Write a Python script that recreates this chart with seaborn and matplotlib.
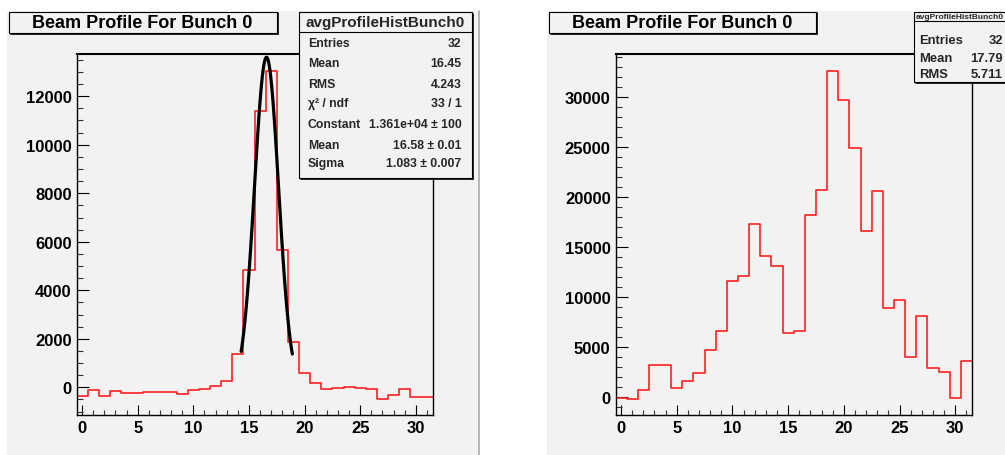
import numpy as np
import pandas as pd
import matplotlib
matplotlib.use("Agg")
import matplotlib.pyplot as plt
import seaborn as sns
from matplotlib.patches import Rectangle
from matplotlib.lines import Line2D
from matplotlib.ticker import MultipleLocator

# ---------------- data ----------------
bin_centers = list(range(32))
left_counts = [-350, -100, -345, -140, -235, -245, -205, -180, -205, -275,
               -100, -60, 40, 270, 1370, 4850, 11400, 13050, 5650, 1860,
               580, 180, -80, -40, 0, -40, -80, -480, -320, -60, -400, -400]
right_counts = [-100, -150, 700, 3200, 3200, 960, 1630, 2430, 4700, 6630,
                11600, 12170, 17300, 14100, 13130, 6430, 6630, 18230, 20700, 32600,
                29700, 24930, 16600, 20600, 8960, 9700, 4030, 8160, 2900, 2530,
                -100, 3600]
fit_constant = 1.361e4
fit_mean = 16.58
fit_sigma = 1.083
fit_range = (14.3, 18.9)

title_text = "Beam Profile For Bunch 0"
hist_name = "avgProfileHistBunch0"
left_stats = [("Entries", "32"), ("Mean", "16.45"), ("RMS", "4.243"),
              ("χ² / ndf", "33 / 1"), ("Constant", "1.361e+04 ± 100"),
              ("Mean", "16.58 ± 0.01"), ("Sigma", "1.083 ± 0.007")]
right_stats = [("Entries", "32"), ("Mean", "17.79"), ("RMS", "5.711")]

x_ticks = [0, 5, 10, 15, 20, 25, 30]

# ---------------- style ----------------
sns.set_theme(style="ticks")
plt.rcParams['font.family'] = ['Liberation Sans', 'DejaVu Sans']
plt.rcParams['font.weight'] = 'bold'

W, H = 1005, 456
fig = plt.figure(figsize=(W / 100, H / 100), dpi=100, facecolor='white')


def fx(x):
    return x / W


def fy(y):
    return 1 - y / H


def add_rect(x0, y0, x1, y1, **kw):
    r = Rectangle((fx(x0), fy(y1)), (x1 - x0) / W, (y1 - y0) / H,
                  transform=fig.transFigure, **kw)
    fig.add_artist(r)
    return r


def add_line(xs, ys, **kw):
    ln = Line2D([fx(x) for x in xs], [fy(y) for y in ys],
                transform=fig.transFigure, **kw)
    fig.add_artist(ln)
    return ln


PAD = '#f2f2f2'
add_rect(7, 12, 478, 456, facecolor=PAD, edgecolor='none', zorder=-5)
add_rect(547, 12, 1005, 456, facecolor=PAD, edgecolor='none', zorder=-5)
add_line([478.7, 478.7], [12, 456], color='#a8a8a8', lw=1.2, zorder=-4)


def style_axes(ax, ylim, ymajor, yminor):
    ax.set_facecolor('none')
    ax.set_xlim(-0.5, 31.5)
    ax.set_ylim(*ylim)
    ax.set_xlabel("")
    ax.set_ylabel("")
    ax.set_xticks(x_ticks)
    ax.xaxis.set_minor_locator(MultipleLocator(1))
    ax.yaxis.set_major_locator(MultipleLocator(ymajor))
    ax.yaxis.set_minor_locator(MultipleLocator(yminor))
    ax.tick_params(axis='both', which='major', direction='in', colors='black',
                   labelsize=12, width=0.8, pad=3.5)
    ax.tick_params(axis='y', which='major', length=8.4)
    ax.tick_params(axis='x', which='major', length=7.2)
    ax.tick_params(axis='y', which='minor', direction='in', length=4.3, width=0.8, color='#333333')
    ax.tick_params(axis='x', which='minor', direction='in', length=3.6, width=0.8, color='#333333')
    ax.tick_params(top=False, right=False, which='both')
    for s in ['left', 'bottom', 'right']:
        ax.spines[s].set_visible(True)
        ax.spines[s].set_color('black')
        ax.spines[s].set_linewidth(1.0)
    ax.spines['top'].set_visible(True)
    ax.spines['top'].set_color('black')
    ax.spines['top'].set_linewidth(1.5)
    for lab in ax.get_xticklabels() + ax.get_yticklabels():
        lab.set_fontweight('bold')


# ---------------- left pad ----------------
ax1 = fig.add_axes([fx(76.5), fy(416), 356 / W, 361 / H])
df_left = pd.DataFrame({"x": bin_centers, "w": left_counts})
sns.histplot(data=df_left, x="x", weights="w", binwidth=1, binrange=(-0.5, 31.5),
             element="step", fill=False, color="#ff2020", linewidth=1.2, ax=ax1)
fx_vals = np.linspace(fit_range[0], fit_range[1], 120)
fy_vals = fit_constant * np.exp(-0.5 * ((fx_vals - fit_mean) / fit_sigma) ** 2)
sns.lineplot(x=fx_vals, y=fy_vals, color='black', linewidth=2.3, sort=False,
             estimator=None, ax=ax1)
style_axes(ax1, (-1140, 13740), 2000, 500)

# ---------------- right pad ----------------
ax2 = fig.add_axes([fx(615.5), fy(416), 356.5 / W, 361 / H])
df_right = pd.DataFrame({"x": bin_centers, "w": right_counts})
sns.histplot(data=df_right, x="x", weights="w", binwidth=1, binrange=(-0.5, 31.5),
             element="step", fill=False, color="#ff2020", linewidth=1.2, ax=ax2)
style_axes(ax2, (-1770, 34330), 5000, 1000)


# ---------------- title boxes ----------------
def title_box(x0, x1):
    add_rect(x0, 12.5, x1, 34, facecolor=PAD, edgecolor='black', lw=0.8, zorder=10)
    add_line([x1 + 1, x1 + 1], [14, 35], color='black', lw=1.2, zorder=10)
    add_line([x0 + 2, x1 + 1], [35, 35], color='black', lw=1.2, zorder=10)
    fig.text(fx((x0 + x1) / 2), fy(23.5), title_text, ha='center', va='center',
             fontsize=13, fontweight='bold', color='black', zorder=11)


title_box(8.5, 276.5)
title_box(549, 815.5)

# ---------------- stats boxes ----------------
# left
add_rect(299, 12.5, 471.5, 178.5, facecolor=PAD, edgecolor='black', lw=0.8, zorder=10)
add_line([472.7, 472.7], [14.5, 179.7], color='black', lw=1.2, zorder=10)
add_line([301, 472.7], [179.7, 179.7], color='black', lw=1.2, zorder=10)
add_line([299, 471.5], [32.5, 32.5], color='black', lw=0.8, zorder=11)
fig.text(fx(385.3), fy(22.5), hist_name, ha='center', va='center',
         fontsize=11, fontweight='bold', zorder=11)
row_y_left = [43.7, 64.0, 85.0, 104.5, 125.5, 145.7, 164.3]
for (lab, val), yy in zip(left_stats, row_y_left):
    fig.text(fx(308), fy(yy), lab, ha='left', va='center', fontsize=8.8,
             fontweight='bold', zorder=11)
    fig.text(fx(461.5), fy(yy), val, ha='right', va='center', fontsize=8.8,
             fontweight='bold', zorder=11)

# right
add_rect(914, 12.5, 1012, 82.5, facecolor=PAD, edgecolor='black', lw=0.8, zorder=10)
add_line([916, 1012], [83.7, 83.7], color='black', lw=1.2, zorder=10)
add_line([914, 1012], [21.5, 21.5], color='black', lw=0.8, zorder=11)
fig.text(fx(916), fy(17.2), hist_name, ha='left', va='center',
         fontsize=6.0, fontweight='bold', zorder=11)
row_y_right = [41.5, 58.5, 75.5]
for (lab, val), yy in zip(right_stats, row_y_right):
    fig.text(fx(919), fy(yy), lab, ha='left', va='center', fontsize=9.4,
             fontweight='bold', zorder=11)
    fig.text(fx(1003), fy(yy), val, ha='right', va='center', fontsize=9.4,
             fontweight='bold', zorder=11)

fig.savefig("out.png", dpi=100, facecolor='white')
